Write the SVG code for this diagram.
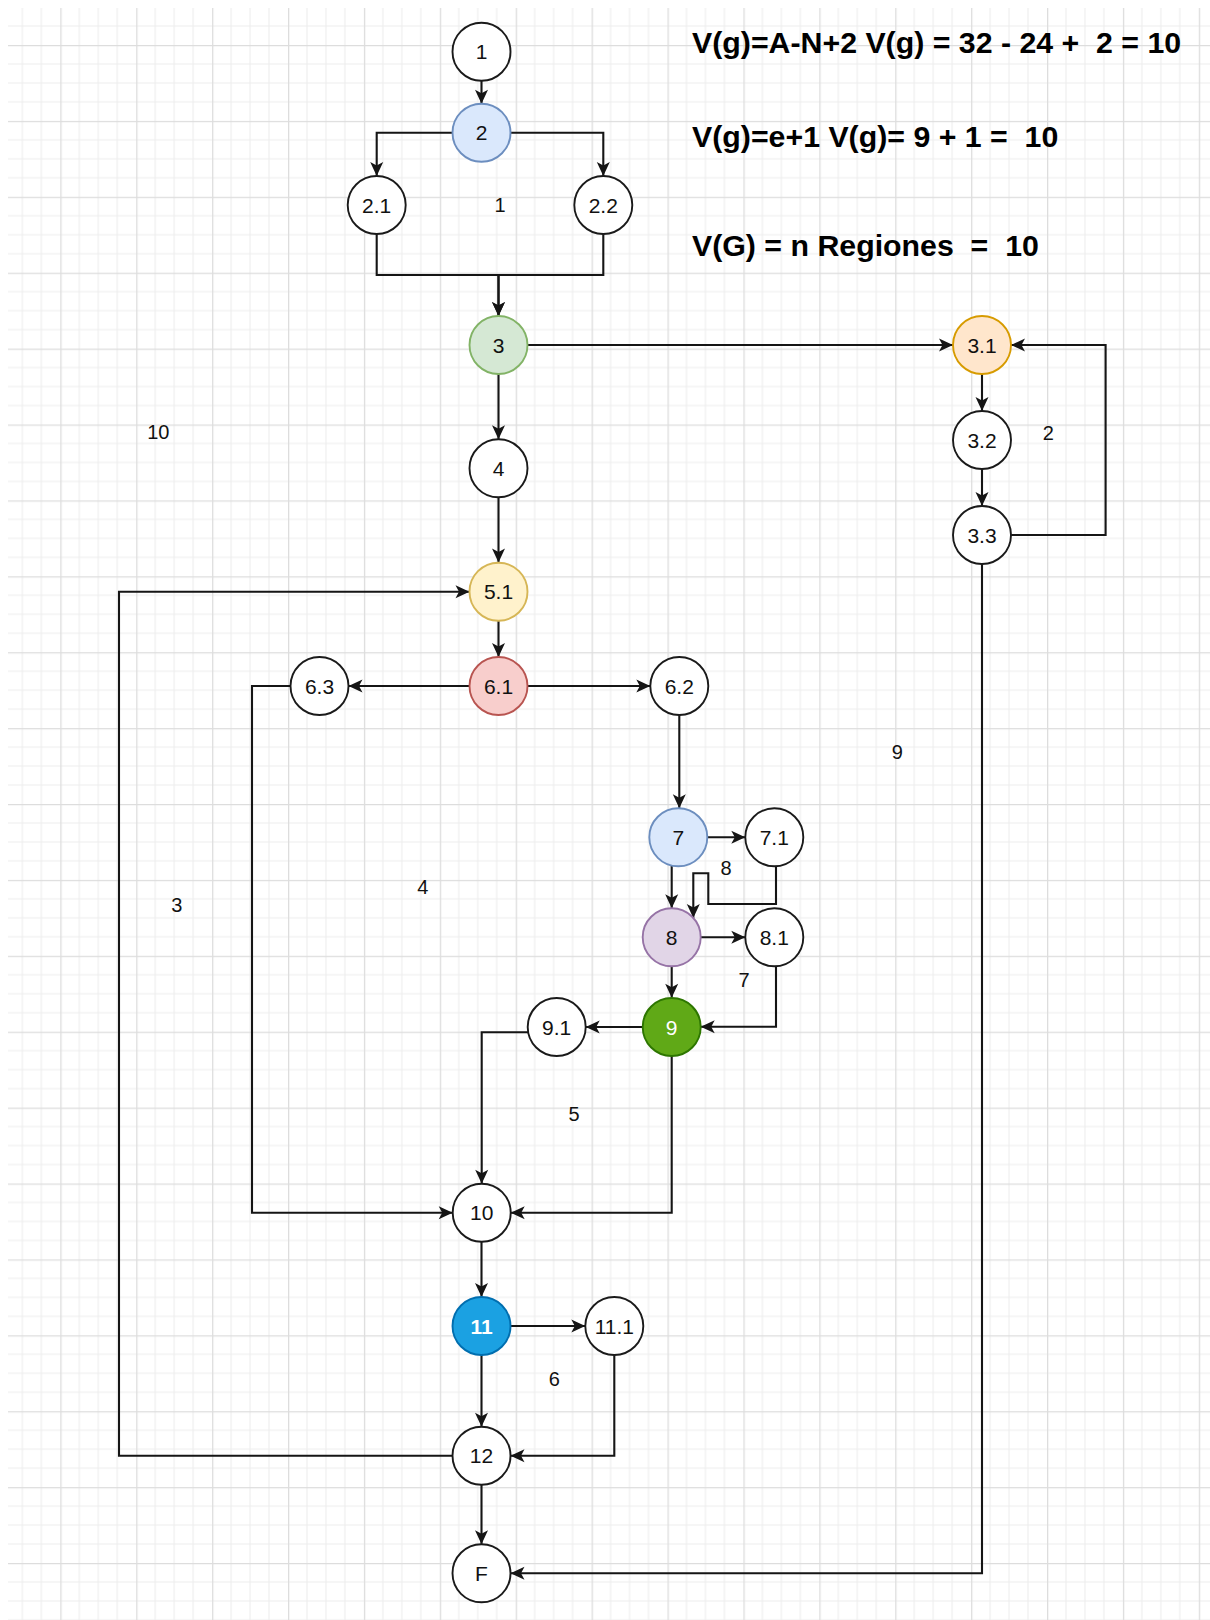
<svg xmlns="http://www.w3.org/2000/svg" width="1210" height="1620" viewBox="0 0 1210 1620">
<style>
.n{stroke:#1a1a1a;stroke-width:1.9;fill:#ffffff}
.lb{font-family:"Liberation Sans",Arial,sans-serif;font-size:21px;fill:#111;text-anchor:middle}
.rg{font-family:"Liberation Sans",Arial,sans-serif;font-size:20px;fill:#111;text-anchor:middle}
.hd{font-family:"Liberation Sans",Arial,sans-serif;font-size:30.3px;font-weight:bold;fill:#000}
.e{fill:none;stroke:#151515;stroke-width:2.1;marker-end:url(#ar)}
</style>
<defs>
<pattern id="grid" patternUnits="userSpaceOnUse" x="60.3" y="45" width="75.9" height="75.9">
<path d="M18.975,0V75.9M37.95,0V75.9M56.925,0V75.9M0,18.975H75.9M0,37.95H75.9M0,56.925H75.9" stroke="#eeeeee" stroke-width="1.2" fill="none"/>
<path d="M0.5,0V75.9M0,0.5H75.9" stroke="#dddddd" stroke-width="1.6" fill="none"/>
</pattern>
<marker id="ar" markerUnits="userSpaceOnUse" markerWidth="16" markerHeight="14" refX="15" refY="7" orient="auto">
<path d="M1,0.5 L15,7 L1,13.5 L4.5,7 Z" fill="#151515"/>
</marker>
</defs>
<rect x="0" y="0" width="1210" height="1620" fill="#ffffff"/>
<rect x="8" y="8" width="1202" height="1612" fill="url(#grid)"/>

<g id="connectors">
<path class="e" d="M481.5,80.7V103.7"/>
<path class="e" d="M452.5,132.7H376.7V176"/>
<path class="e" d="M510.5,132.7H603.3V176"/>
<path class="e" d="M376.7,234V275H498.5V316"/>
<path class="e" d="M603.3,234V275H498.5V316"/>
<path class="e" d="M527.5,345H953"/>
<path class="e" d="M498.5,374V439.3"/>
<path class="e" d="M982,374V411"/>
<path class="e" d="M982,469V506"/>
<path class="e" d="M1011,535H1105.6V345H1011"/>
<path class="e" d="M982,564V1573.3H510.5"/>
<path class="e" d="M498.5,497.3V562.5"/>
<path class="e" d="M498.5,620.7V657"/>
<path class="e" d="M469.5,686H348.5"/>
<path class="e" d="M527.5,686H650.3"/>
<path class="e" d="M679.3,715V808.3"/>
<path class="e" d="M290.5,686H252V1212.7H452.7"/>
<path class="e" d="M707.3,837.3H745.3"/>
<path class="e" d="M671.7,865.5V908.3"/>
<path class="e" d="M776,866.3V904H708.3V873.3H693.3V918"/>
<path class="e" d="M700.7,937.3H745.3"/>
<path class="e" d="M671.7,966.3V997.7"/>
<path class="e" d="M776,966.3V1026.7H700.7"/>
<path class="e" d="M642.7,1027H585.7"/>
<path class="e" d="M528,1032.3H481.7V1183.7"/>
<path class="e" d="M671.7,1056V1212.7H510.7"/>
<path class="e" d="M481.5,1241.7V1297"/>
<path class="e" d="M510.5,1326H585.3"/>
<path class="e" d="M481.5,1355V1426.7"/>
<path class="e" d="M614.3,1355V1455.7H510.5"/>
<path class="e" d="M452.5,1455.7H119V591.7H469.5"/>
<path class="e" d="M481.5,1484.7V1544.3"/>
</g>

<g id="n1"><circle class="n" cx="481.5" cy="51.7" r="29"/><text class="lb" x="481.5" y="59.2">1</text></g>
<g id="n2"><circle class="n" cx="481.5" cy="132.7" r="29" style="fill:#dae8fc;stroke:#6c8ebf"/><text class="lb" x="481.5" y="140.2">2</text></g>
<g id="n2_1"><circle class="n" cx="376.7" cy="205" r="29"/><text class="lb" x="376.7" y="212.5">2.1</text></g>
<g id="n2_2"><circle class="n" cx="603.3" cy="205" r="29"/><text class="lb" x="603.3" y="212.5">2.2</text></g>
<g id="n3"><circle class="n" cx="498.5" cy="345" r="29" style="fill:#d5e8d4;stroke:#82b366"/><text class="lb" x="498.5" y="352.5">3</text></g>
<g id="n3_1"><circle class="n" cx="982" cy="345" r="29" style="fill:#ffe6cc;stroke:#d79b00"/><text class="lb" x="982" y="352.5">3.1</text></g>
<g id="n3_2"><circle class="n" cx="982" cy="440" r="29"/><text class="lb" x="982" y="447.5">3.2</text></g>
<g id="n3_3"><circle class="n" cx="982" cy="535" r="29"/><text class="lb" x="982" y="542.5">3.3</text></g>
<g id="n4"><circle class="n" cx="498.5" cy="468.3" r="29"/><text class="lb" x="498.5" y="475.8">4</text></g>
<g id="n5_1"><circle class="n" cx="498.5" cy="591.7" r="29" style="fill:#fff2cc;stroke:#d6b656"/><text class="lb" x="498.5" y="599.2">5.1</text></g>
<g id="n6_1"><circle class="n" cx="498.5" cy="686" r="29" style="fill:#f8cecc;stroke:#b85450"/><text class="lb" x="498.5" y="693.5">6.1</text></g>
<g id="n6_3"><circle class="n" cx="319.5" cy="686" r="29"/><text class="lb" x="319.5" y="693.5">6.3</text></g>
<g id="n6_2"><circle class="n" cx="679.3" cy="686" r="29"/><text class="lb" x="679.3" y="693.5">6.2</text></g>
<g id="n7"><circle class="n" cx="678.3" cy="837.3" r="29" style="fill:#dae8fc;stroke:#6c8ebf"/><text class="lb" x="678.3" y="844.8">7</text></g>
<g id="n7_1"><circle class="n" cx="774.3" cy="837.3" r="29"/><text class="lb" x="774.3" y="844.8">7.1</text></g>
<g id="n8"><circle class="n" cx="671.7" cy="937.3" r="29" style="fill:#e1d5e7;stroke:#9673a6"/><text class="lb" x="671.7" y="944.8">8</text></g>
<g id="n8_1"><circle class="n" cx="774.3" cy="937.3" r="29"/><text class="lb" x="774.3" y="944.8">8.1</text></g>
<g id="n9"><circle class="n" cx="671.7" cy="1027" r="29" style="fill:#60a917;stroke:#2d7600"/><text class="lb" x="671.7" y="1034.5" style="fill:#ffffff">9</text></g>
<g id="n9_1"><circle class="n" cx="556.7" cy="1027" r="29"/><text class="lb" x="556.7" y="1034.5">9.1</text></g>
<g id="n10"><circle class="n" cx="481.7" cy="1212.7" r="29"/><text class="lb" x="481.7" y="1220.2">10</text></g>
<g id="n11"><circle class="n" cx="481.5" cy="1326" r="29" style="fill:#1ba1e2;stroke:#006eaf"/><text class="lb" x="481.5" y="1333.5" style="fill:#ffffff;font-weight:bold">11</text></g>
<g id="n11_1"><circle class="n" cx="614.3" cy="1326" r="29"/><text class="lb" x="614.3" y="1333.5">11.1</text></g>
<g id="n12"><circle class="n" cx="481.5" cy="1455.7" r="29"/><text class="lb" x="481.5" y="1463.2">12</text></g>
<g id="nF"><circle class="n" cx="481.5" cy="1573.3" r="29"/><text class="lb" x="481.5" y="1580.8">F</text></g>

<g id="regions">
<text class="rg" x="500" y="212.2">1</text>
<text class="rg" x="1048.4" y="439.7">2</text>
<text class="rg" x="158.3" y="438.9">10</text>
<text class="rg" x="897.3" y="758.9">9</text>
<text class="rg" x="726" y="874.5">8</text>
<text class="rg" x="422.7" y="893.9">4</text>
<text class="rg" x="176.7" y="911.5">3</text>
<text class="rg" x="744" y="987.2">7</text>
<text class="rg" x="574" y="1121.2">5</text>
<text class="rg" x="554.3" y="1386.2">6</text>
</g>

<g id="formulas">
<text class="hd" x="692" y="53" xml:space="preserve">V(g)=A-N+2 V(g) = 32 - 24 +  2 = 10</text>
<text class="hd" x="692" y="146.5" xml:space="preserve">V(g)=e+1 V(g)= 9 + 1 =  10</text>
<text class="hd" x="692" y="255.5" xml:space="preserve">V(G) = n Regiones  =  10</text>
</g>
</svg>
